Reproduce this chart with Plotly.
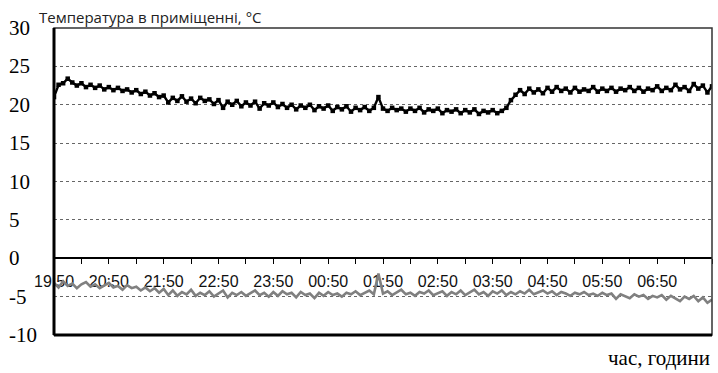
import pandas as pd
import plotly.graph_objects as go

# ---- data (5-minute readings, 19:50 -> 07:50) ----
start_time = "2020-01-01 19:50"
n_points = 145

room_temp = [
    21.0, 22.6, 22.8, 23.4, 22.9, 22.5, 22.8, 22.3, 22.6, 22.2, 22.5, 22.0,
    22.3, 21.9, 22.2, 21.8, 22.0, 21.6, 21.9, 21.4, 21.7, 21.2, 21.5, 21.0,
    21.2, 20.3, 20.9, 20.5, 21.1, 20.4, 20.8, 20.2, 20.9, 20.5, 20.7, 20.1,
    20.6, 19.6, 20.4, 20.0, 20.5, 19.8, 20.3, 19.9, 20.4, 19.5, 20.2, 19.9,
    20.3, 19.7, 20.1, 19.6, 20.0, 19.4, 19.9, 19.6, 20.0, 19.3, 19.8, 19.5,
    19.9, 19.2, 19.7, 19.4, 19.8, 19.1, 19.6, 19.3, 19.7, 19.2, 19.6, 21.0,
    19.5, 19.2, 19.6, 19.3, 19.5, 19.1, 19.5, 19.2, 19.6, 19.0, 19.4, 19.2,
    19.5, 18.9, 19.3, 19.1, 19.4, 18.9, 19.3, 19.0, 19.4, 18.8, 19.2, 19.0,
    19.3, 18.9, 19.2, 19.6, 20.6, 21.3, 21.9, 21.4, 22.1, 21.6, 22.0, 21.5,
    22.2, 21.7, 22.3, 21.8, 22.1, 21.6, 22.2, 21.7, 22.0, 21.8, 22.3, 21.7,
    22.1, 21.8, 22.2, 21.7, 22.1, 21.9, 22.3, 21.8, 22.2, 21.7, 22.1, 21.9,
    22.4, 21.8, 22.2, 21.9, 22.6, 22.0, 22.3, 21.8, 22.7, 22.1, 22.5, 21.6,
    22.4,
]

outdoor_temp = [
    -3.2, -3.8, -3.0, -3.6, -3.3, -3.9, -3.4, -3.1, -3.7, -3.4, -3.9, -3.5,
    -3.2, -3.8, -3.6, -4.1, -3.5, -3.9, -3.7, -4.2, -3.8, -4.3, -3.9, -4.5,
    -4.0, -4.8, -4.2, -4.9, -4.4, -4.7, -4.1, -4.9, -4.5, -4.8, -4.3, -5.0,
    -4.6, -4.2, -5.1, -4.5, -4.8, -4.4, -4.9, -4.6, -4.2, -4.8, -4.5, -5.0,
    -4.4, -4.9, -4.3, -4.7, -4.5, -5.1, -4.4, -4.8, -4.6, -5.2, -4.5, -4.9,
    -4.4, -4.8, -4.6, -5.0, -4.5, -4.7, -4.3, -4.8, -4.5, -4.2, -4.7, -2.0,
    -4.6, -4.3, -4.8, -4.4, -4.1, -4.7, -4.5, -4.9, -4.4, -4.6, -4.2, -4.8,
    -4.5, -4.3, -4.9, -4.4, -4.7, -4.2, -4.8, -4.5, -4.1, -4.7, -4.4, -4.9,
    -4.3, -4.6, -4.2, -4.8, -4.4, -4.7, -4.3, -4.6, -4.1, -4.7, -4.4, -4.2,
    -4.6, -4.3, -4.8, -4.4, -4.6, -4.9, -4.5, -4.7, -4.4, -4.8, -4.6, -4.9,
    -4.5, -4.8, -4.6, -5.3, -4.7, -4.9, -5.2, -4.7, -5.0, -4.8, -5.3, -4.9,
    -5.1, -4.8, -5.4, -4.9, -5.2, -5.6, -5.0, -5.3, -4.9, -5.6, -5.1, -5.8,
    -5.4,
]

x_tick_labels = ["19:50", "20:50", "21:50", "22:50", "23:50", "00:50",
                 "01:50", "02:50", "03:50", "04:50", "05:50", "06:50", ""]
y_tick_vals = [30, 25, 20, 15, 10, 5, 0, -5, -10]

title_text = "Температура в приміщенні, °C"
x_title_text = "час, години"

# ---- build ----
times = pd.date_range(start_time, periods=n_points, freq="5min")
tick_times = pd.date_range(start_time, periods=25, freq="30min")
tick_text = []
for i in range(len(tick_times)):
    tick_text.append(x_tick_labels[i // 2] if i % 2 == 0 else "")

fig = go.Figure()
fig.add_trace(go.Scatter(
    x=times, y=outdoor_temp, mode="lines",
    line=dict(color="#808080", width=2.6), showlegend=False,
))
fig.add_trace(go.Scatter(
    x=times, y=room_temp, mode="lines+markers",
    line=dict(color="#000000", width=2.4),
    marker=dict(color="#000000", size=4.5, symbol="square"),
    showlegend=False,
))

fig.update_layout(
    width=718, height=373,
    margin=dict(l=54, r=6, t=28, b=38),
    paper_bgcolor="white", plot_bgcolor="white",
    xaxis=dict(
        range=[times[0], tick_times[-1]],
        anchor="free", position=0.25,
        showline=True, linecolor="#000000", linewidth=1.5,
        showgrid=False, zeroline=False,
        tickmode="array", tickvals=tick_times, ticktext=tick_text,
        ticks="outside", ticklen=5, tickcolor="#000000", tickwidth=1,
        tickfont=dict(family="Liberation Sans, Arial", size=16, color="#111111"),
        ticklabelstandoff=4,
        layer="below traces",
    ),
    yaxis=dict(
        range=[-10, 30], domain=[0, 1],
        tickvals=y_tick_vals, showticklabels=False,
        showgrid=True, gridcolor="#666666", griddash="dot", gridwidth=1,
        zeroline=False, showline=False, ticks="",
    ),
)

# frame: thin top/right, thick left/bottom
fig.add_shape(type="rect", xref="x domain", yref="y domain",
              x0=0, x1=1, y0=0, y1=1, line=dict(color="#333333", width=1.5))
fig.add_shape(type="line", xref="x domain", yref="y domain",
              x0=0, x1=0, y0=0, y1=1, line=dict(color="#000000", width=3))
fig.add_shape(type="line", xref="x domain", yref="y domain",
              x0=0, x1=1, y0=0, y1=0, line=dict(color="#000000", width=3))

# left-aligned y tick labels
for v in y_tick_vals:
    fig.add_annotation(
        xref="paper", yref="y", x=-47 / 658, y=v, xanchor="left", yanchor="middle",
        text=str(v), showarrow=False,
        font=dict(family="Liberation Serif, Times New Roman", size=21, color="#000000"),
    )

fig.add_annotation(
    xref="paper", yref="paper", x=-17 / 658, y=1.0, yshift=11,
    xanchor="left", yanchor="middle", text=title_text, showarrow=False,
    font=dict(family="Open Sans, Noto Sans", size=15, color="#222222"),
)
fig.add_annotation(
    xref="paper", yref="paper", x=1.0, y=0, yshift=-23,
    xanchor="right", yanchor="middle", text=x_title_text, showarrow=False,
    font=dict(family="Liberation Serif, Times New Roman", size=21, color="#000000"),
)

fig.write_html("out.html")
